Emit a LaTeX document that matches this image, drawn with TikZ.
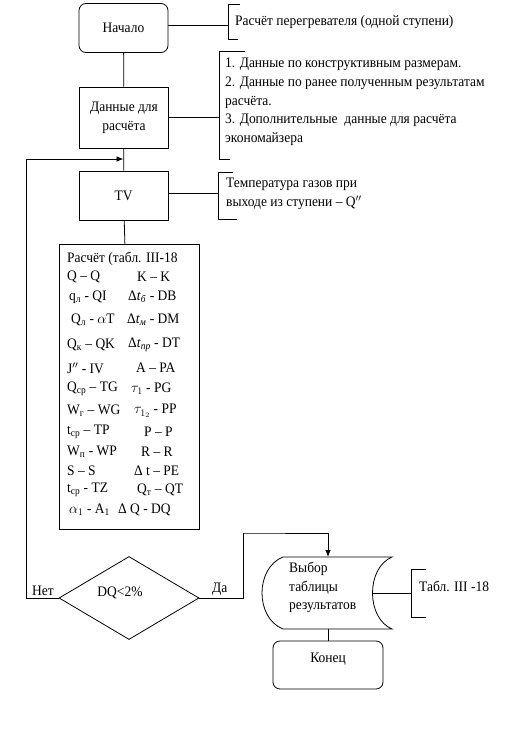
\documentclass[tikz,border=0pt]{standalone}
\usepackage{fontspec}
\setmainfont{Liberation Serif}[FakeStretch=0.93]
\usetikzlibrary{shapes.geometric,arrows.meta}
\begin{document}
\begin{tikzpicture}[x=1pt,y=-1pt,
  font=\fontsize{14.5}{18.7}\selectfont,
  line/.style={line width=0.8pt},
  box/.style={draw, line, minimum width=89pt, minimum height=49pt, align=center, inner sep=2pt},
  rbox/.style={box, rounded corners=7pt},
  arr/.style={line, -{Latex[length=7pt,width=5.5pt]}},
  note/.style={align=left, anchor=north west, inner sep=0pt},
  cell/.style={anchor=west, inner sep=0pt}]

\useasboundingbox (0,0) rectangle (517,737);

% main nodes
\node[rbox] (start) at (123.5,28) {Начало};
\node[box, minimum height=61pt] (data) at (124,117.5) {Данные для\\расчёта};
\node[box] (tv) at (123.5,195.5) {TV};
\node[draw, line, minimum width=140pt, minimum height=285pt, inner sep=0pt] (calc) at (129,386.5) {};
\node[diamond, draw, line, minimum width=140pt, minimum height=83pt, inner sep=0pt] (dq) at (129,598) {};
\node (dqtext) at (120,593) {DQ<2\%};
\node[rbox, minimum width=110pt, minimum height=48pt] (end) at (328,665) {};
\node (endtext) at (328,659) {Конец};

% stored-data shape
\coordinate (seltop) at (328,557);
\coordinate (selright) at (372,593);
\coordinate (selbot) at (328,629);
\draw[line] (283,557) -- (392,557)
  .. controls (366,568) and (366,618) .. (392,629)
  -- (283,629)
  .. controls (255,618) and (255,568) .. (283,557);
\node[note] (seltext) at (289,562) {Выбор\\таблицы\\результатов};

% connectors
\draw[line] (start) -- (data);
\draw[line] (data) -- (tv);
\draw[line] (tv) -- (calc);
\coordinate (loopin) at (123.5,159);
\draw[arr] (dq.west) -- ++(-32,0) |- (loopin);
\node[anchor=south west, inner sep=1pt] (net) at (31,597) {Нет};
\coordinate (yes) at (243,533);
\draw[arr] (dq.east) -- ++(44,0) |- (yes) -| (seltop);
\node[anchor=south west, inner sep=1pt] (da) at (211,597) {Да};
\draw[line] (selbot) -- (end);

% comment brackets
\coordinate (b1) at (228,25);
\draw[line] (start.east |- b1) -- (b1);
\draw[line] (240,4) -- (228,4) -- (228,39) -- (238,39);
\node[anchor=west, inner sep=0pt] (t1) at (235,22) {Расчёт перегревателя (одной ступени)};

\coordinate (b2) at (219,117.5);
\draw[line] (data.east) -- (b2);
\draw[line] (245,51) -- (219,51) -- (219,159) -- (230,159);
\node[note] (t2) at (225,58) {1. Данные по конструктивным размерам.\\2. Данные по ранее полученным результатам\\расчёта.\\3. Дополнительные\ \ данные для расчёта\\экономайзера};

\coordinate (b3) at (218,193);
\draw[line] (tv.east |- b3) -- (b3);
\draw[line] (233,172) -- (218,172) -- (218,219) -- (237,219);
\node[note] (t3) at (226,178) {Температура газов при\\выходе из ступени – Q$^{\prime\prime}$};

\coordinate (b4) at (411,593);
\draw[line] (selright) -- (b4);
\draw[line] (426,569) -- (411,569) -- (411,617) -- (426,617);
\node[anchor=west, inner sep=0pt] (t4) at (419,586) {Табл. III -18};

% table inside calc
\node[cell] (c0) at (67,259) {Расчёт (табл. III-18};
\node[cell] (c1) at (67,277) {Q – Q};
\node[cell] (c2) at (69,297) {q\textsubscript{л} - QI};
\node[cell] (c3) at (71,320) {Q\textsubscript{л} - $\alpha$T};
\node[cell] (c4) at (67,345) {Q\textsubscript{к} – QK};
\node[cell] (c5) at (67,368) {J$^{\prime\prime}$ - IV};
\node[cell] (c6) at (67,389) {Q\textsubscript{ср} – TG};
\node[cell] (c7) at (67,411) {W\textsubscript{г} – WG};
\node[cell] (c8) at (67,432) {t\textsubscript{ср} – TP};
\node[cell] (c9) at (67,452) {W\textsubscript{п} - WP};
\node[cell] (c10) at (67,471) {S – S};
\node[cell] (c11) at (67,490) {t\textsubscript{ср} - TZ};
\node[cell] (c12) at (69,510) {$\alpha_1$ - A\textsubscript{1}};

\node[cell] (d1) at (137,277) {K – K};
\node[cell] (d2) at (128,297) {Δ\textit{t}\textsubscript{\textit{б}} - DB};
\node[cell] (d3) at (127,320) {Δ\textit{t}\textsubscript{\textit{м}} - DM};
\node[cell] (d4) at (128,345) {Δ\textit{t}\textsubscript{\textit{пр}} - DT};
\node[cell] (d5) at (136,368) {A – PA};
\node[cell] (d6) at (131,389) {$\tau_1$ - PG};
\node[cell] (d7) at (134,411) {$\tau_{1_2}$ - PP};
\node[cell] (d8) at (144,432) {P – P};
\node[cell] (d9) at (141,452) {R – R};
\node[cell] (d10) at (134,471) {Δ t – PE};
\node[cell] (d11) at (137,490) {Q\textsubscript{т} – QT};
\node[cell] (d12) at (118,510) {Δ Q - DQ};
\end{tikzpicture}
\end{document}
